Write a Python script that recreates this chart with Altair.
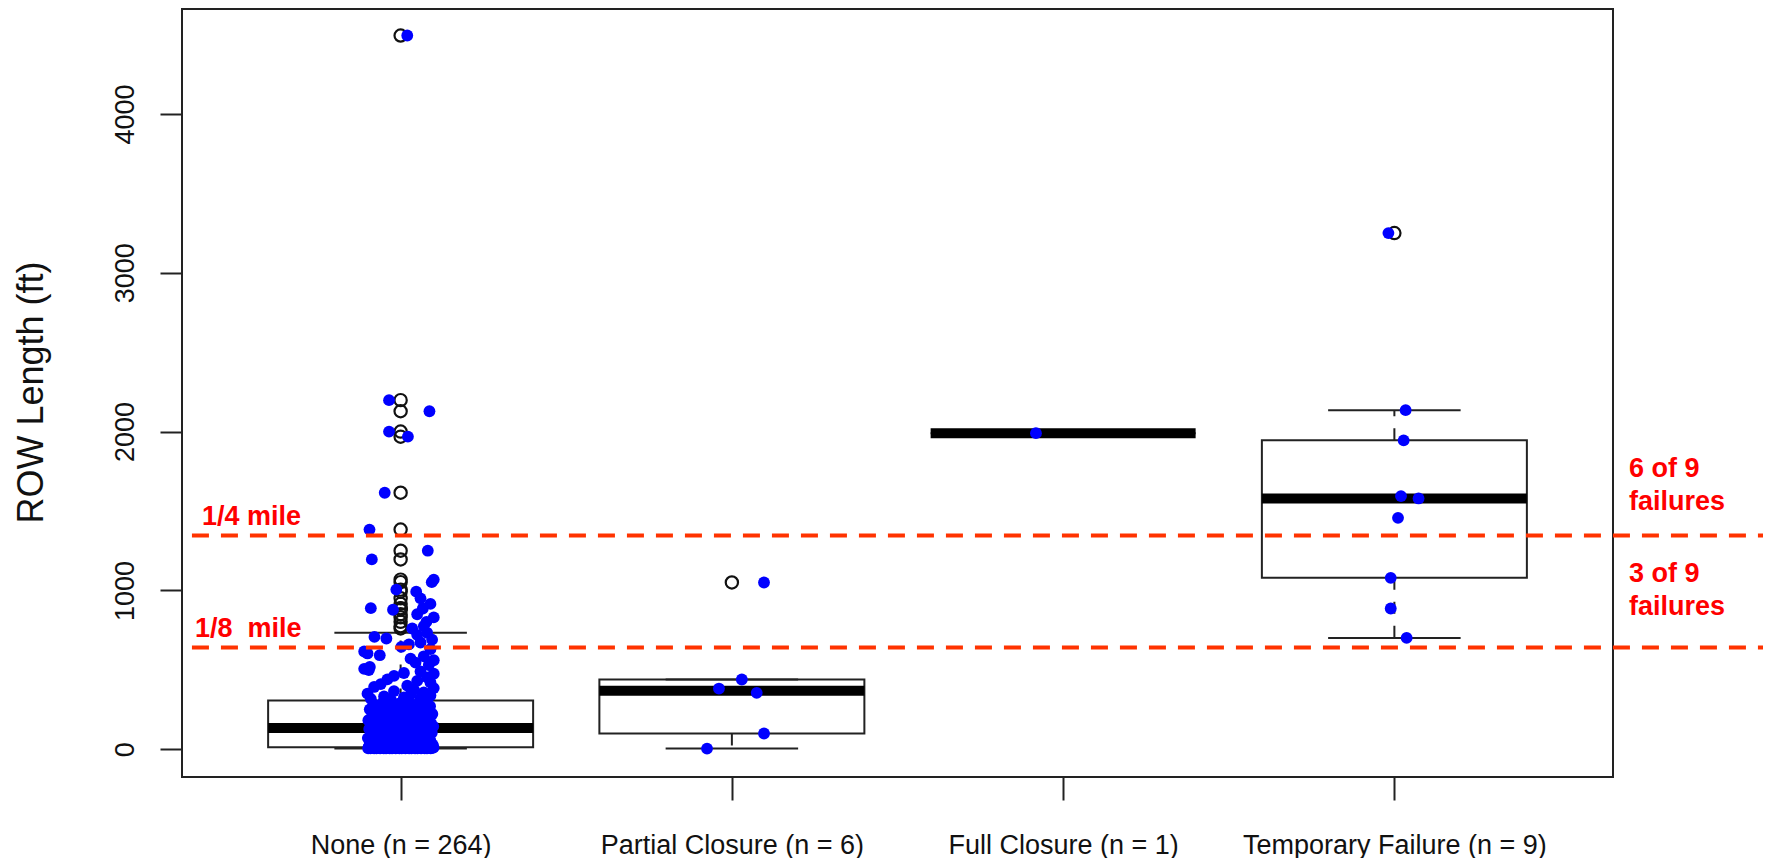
import math
import altair as alt
import pandas as pd

# ---------------- data ----------------
categories = ["None (n = 264)", "Partial Closure (n = 6)",
              "Full Closure (n = 1)", "Temporary Failure (n = 9)"]

# None group (264 values), split by range
none_outliers = [4494, 2198, 2128, 2000, 1968, 1615, 1383, 1250, 1195, 1068,
                 1052, 1005, 992, 950, 915, 888, 878, 886, 850, 830,
                 802, 775, 760]
none_outliers_jitter = [0.02, -0.035, 0.087, -0.035, 0.022, -0.048, -0.094, 0.082, -0.087, 0.1,
                        0.094, -0.013, 0.047, 0.06, 0.09, -0.09, -0.023, 0.067, 0.05, 0.1,
                        0.078, 0.07, 0.035]
none_upper = [733, 720, 707, 697, 690, 672, 660, 644, 630, 615,
              603, 592, 585, 570, 560, 545, 530, 518, 506, 498,
              490, 480, 475, 462, 452, 440, 430, 420, 410, 400,
              392, 385, 375, 366, 358, 350, 345, 338, 332, 326,
              320, 317, 314]
none_upper_jitter = [0.08, 0.05, -0.079, -0.043, 0.095, 0.06, 0.025, 0.002, 0.09, -0.11,
                     -0.1, -0.063, 0.07, 0.03, 0.1, 0.045, 0.085, -0.093, -0.11, -0.096,
                     0.06, 0.01, 0.1, -0.02, 0.08, -0.04, 0.05, 0.09, -0.06, 0.02,
                     -0.08, 0.1, 0.04, -0.02, 0.07, -0.1, 0.03, 0.09, -0.05, 0.01,
                     0.06, -0.09, -0.03]
none_mid_high = [300, 296, 291, 287, 283, 279, 275, 271, 267, 263,
                 259, 255, 251, 247, 243, 239, 235, 231, 228, 225,
                 222, 219, 216, 213, 210, 207, 204, 201, 198, 195,
                 192, 189, 186, 183, 180, 177, 175, 173, 171, 169,
                 167, 165, 163, 161, 159, 157, 155, 153, 151, 149,
                 148, 147, 146, 145, 144, 143, 142, 141, 140, 139,
                 139, 138, 138, 138, 138, 138]
none_mid_low = [130, 127, 124, 121, 118, 115, 112, 109, 106, 103,
                100, 97, 94, 91, 88, 85, 82, 80, 78, 76,
                74, 72, 70, 68, 66, 64, 62, 60, 58, 56,
                54, 52, 50, 48, 46, 44, 42, 40, 38, 36,
                34, 32, 30, 29, 28, 27, 26, 25, 24, 23,
                22, 21, 20, 19, 18, 17, 16, 15, 14, 13,
                13, 12, 12, 12, 12, 12]
none_low = [12, 12, 12, 12, 12, 12, 12, 12, 11, 11,
            11, 11, 11, 11, 10, 10, 10, 10, 10, 10,
            10, 10, 10, 10, 10, 10, 9, 9, 9, 9,
            9, 9, 8, 8, 8, 8, 8, 8, 8, 7,
            7, 7, 7, 7, 7, 6, 6, 6, 6, 6,
            6, 6, 5, 5, 5, 5, 5, 5, 5, 5,
            5, 5, 5, 5, 5, 5]

partial_vals = [1050, 439, 382, 355, 99, 4]
partial_jitter = [0.097, 0.03, -0.039, 0.075, 0.097, -0.075]

full_vals = [1990]
full_jitter = [-0.082]

temp_vals = [3250, 2135, 1945, 1594, 1579, 1457, 1079, 886, 701]
temp_jitter = [-0.018, 0.034, 0.028, 0.02, 0.073, 0.011, -0.011, -0.011, 0.037]

ref_values = [1345, 641]          # "1/4 mile" and "1/8 mile" dashed lines
ann_text = ["1/4 mile", "1/8\u00a0 mile", "6 of 9", "failures", "3 of 9", "failures"]
ann_x = [0.40, 0.379, 4.708, 4.708, 4.708, 4.708]
ann_y = [1412, 708, 1714, 1506, 1053, 845]

# ---------------- build tables ----------------
blob = none_mid_high + none_mid_low + none_low
blob_jitter = [((k + 1) * 0.6180339887 % 1.0) * 0.2 - 0.1 for k in range(len(blob))]

groups = [
    (none_outliers + none_upper + blob,
     none_outliers_jitter + none_upper_jitter + blob_jitter),
    (partial_vals, partial_jitter),
    (full_vals, full_jitter),
    (temp_vals, temp_jitter),
]


def fivenum(v):
    x = sorted(v)
    n = len(x)
    n4 = ((n + 3) // 2) / 2
    d = [1, n4, (n + 1) / 2, n + 1 - n4, n]
    return [0.5 * (x[math.floor(di) - 1] + x[math.ceil(di) - 1]) for di in d]


pts_rows, box_rows, out_rows = [], [], []
for i, (vals, jit) in enumerate(groups):
    pos = i + 1
    for v, j in zip(vals, jit):
        pts_rows.append({"x": pos + j, "value": v})
    f = fivenum(vals)
    q1, med, q3 = f[1], f[2], f[3]
    iqr = q3 - q1
    lo, hi = q1 - 1.5 * iqr, q3 + 1.5 * iqr
    inside = [v for v in vals if lo <= v <= hi]
    box_rows.append({"pos": pos, "left": pos - 0.4, "right": pos + 0.4,
                     "capl": pos - 0.2, "capr": pos + 0.2,
                     "q1": q1, "med": med, "q3": q3,
                     "wlo": min(inside), "whi": max(inside)})
    for v in vals:
        if v < lo or v > hi:
            out_rows.append({"pos": pos, "value": v})

pts = pd.DataFrame(pts_rows)
box = pd.DataFrame(box_rows)
outs = pd.DataFrame(out_rows)
refs = pd.DataFrame({"y": ref_values, "x1": 0.37, "x2": 5.3})
ann = pd.DataFrame({"text": ann_text, "x": ann_x, "y": ann_y})

# ---------------- scales / axes ----------------
XS = alt.Scale(domain=[0.34, 4.66], nice=False, zero=False)
YS = alt.Scale(domain=[-175, 4661], nice=False, zero=False)

label_expr = " : ".join(
    [f"datum.value == {i + 1} ? '{c}'" for i, c in enumerate(categories)]) + " : ''"

x_axis = alt.Axis(values=[1, 2, 3, 4], labelExpr=label_expr, title=None,
                  grid=False, domain=False, tickSize=23, tickWidth=2,
                  tickColor="#222", labelFontSize=27, labelColor="#111",
                  labelBaseline="alphabetic", labelPadding=53, labelLimit=0,
                  labelFlush=False, labelOverlap=False)
y_axis = alt.Axis(values=[0, 1000, 2000, 3000, 4000], format="d",
                  grid=False, domain=False, tickSize=22, tickWidth=2,
                  tickColor="#222", labelFontSize=27, labelColor="#111",
                  labelAngle=270, labelAlign="center", labelBaseline="alphabetic",
                  labelPadding=27, labelFlush=False, labelOverlap=False, labelLimit=0,
                  title="ROW Length (ft)", titleFontSize=36, titleFontWeight="normal",
                  titleColor="#111", titleAngle=270, titleX=-140, titleY=383,
                  titleAlign="center", titleBaseline="alphabetic", titleLimit=0)


def X(field):
    return alt.X(field, scale=XS, axis=x_axis, title=None)


def Y(field):
    return alt.Y(field, scale=YS, axis=y_axis, title="ROW Length (ft)")


base_box = alt.Chart(box)

boxes = base_box.mark_rect(fill="white", stroke="#222", strokeWidth=2).encode(
    x=X("left:Q"), x2="right:Q", y=Y("q1:Q"), y2="q3:Q",
)
whisk_up = base_box.mark_rule(color="#222", strokeWidth=2, strokeDash=[12, 12]).encode(
    x=X("pos:Q"), y=Y("q3:Q"), y2="whi:Q",
)
whisk_lo = base_box.mark_rule(color="#222", strokeWidth=2, strokeDash=[12, 12]).encode(
    x=X("pos:Q"), y=Y("q1:Q"), y2="wlo:Q",
)
cap_up = base_box.mark_rule(color="#222", strokeWidth=2).encode(
    x=X("capl:Q"), x2="capr:Q", y=Y("whi:Q"),
)
cap_lo = base_box.mark_rule(color="#222", strokeWidth=2).encode(
    x=X("capl:Q"), x2="capr:Q", y=Y("wlo:Q"),
)
median = base_box.mark_rule(color="black", strokeWidth=10).encode(
    x=X("left:Q"), x2="right:Q", y=Y("med:Q"),
)
outliers = alt.Chart(outs).mark_point(shape="circle", filled=False, size=150,
                                      strokeWidth=2.2, color="#111", opacity=1).encode(
    x=X("pos:Q"), y=Y("value:Q"),
)
points = alt.Chart(pts).mark_circle(size=140, color="#0000FF", opacity=1).encode(
    x=X("x:Q"), y=Y("value:Q"),
)
ref_lines = alt.Chart(refs).mark_rule(color="#FF3300", strokeWidth=4,
                                      strokeDash=[17, 12]).encode(
    x=X("x1:Q"), x2="x2:Q", y=Y("y:Q"),
)
labels = alt.Chart(ann).mark_text(align="left", baseline="alphabetic", fontSize=27,
                                  fontWeight="bold", color="#FF0000",
                                  font="Liberation Sans").encode(
    x=X("x:Q"), y=Y("y:Q"), text="text:N",
)

chart = alt.layer(
    boxes, whisk_up, whisk_lo, cap_up, cap_lo, median, outliers, points,
    ref_lines, labels,
).properties(
    width=1431, height=768,
    autosize=alt.AutoSizeParams(type="none"),
    padding={"left": 174, "top": 1, "right": 150, "bottom": 81},
).configure(font="Liberation Sans").configure_view(stroke="#222", strokeWidth=2)

chart.save("out.html", embed_options={"renderer": "svg", "actions": False})
